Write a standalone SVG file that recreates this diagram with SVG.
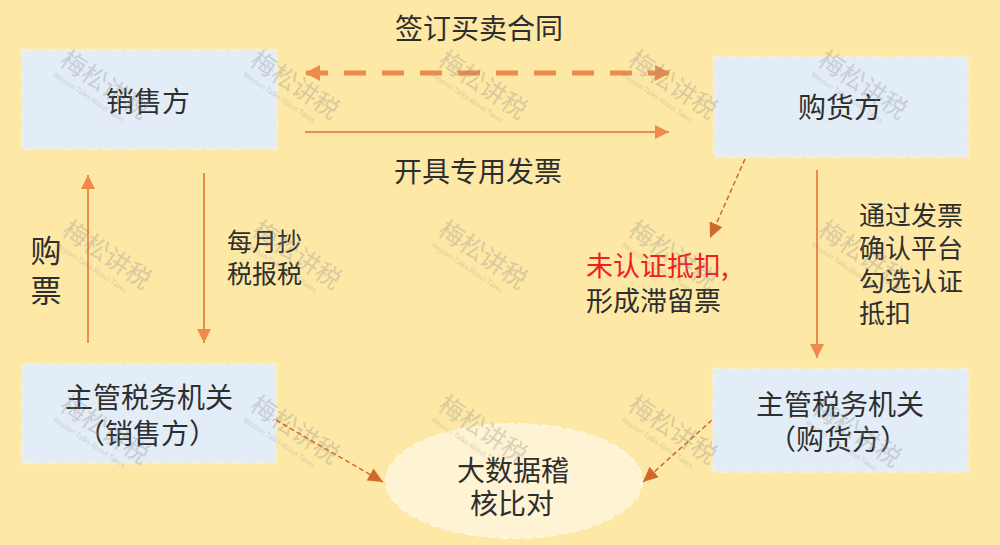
<svg xmlns="http://www.w3.org/2000/svg" width="1000" height="545" viewBox="0 0 1000 545">
<style>
.t{font-family:"Noto Sans CJK SC","Noto Sans",sans-serif;fill:#2e2e2e;dominant-baseline:central}
.c{text-anchor:middle}
.box{fill:#E3EDF7;stroke:#F4EFD9;stroke-width:2.5;stroke-dasharray:9 4}
.main{stroke:#EE8A4C;fill:none}
.thin{stroke:#D2692C;fill:none;stroke-width:1.5;stroke-dasharray:5 3}
.wm{font-family:"Noto Sans CJK SC",sans-serif;fill:#8f8f8f;opacity:0.32}
</style>
<defs>
<marker id="ah" markerUnits="userSpaceOnUse" markerWidth="16" markerHeight="16" refX="14" refY="8" orient="auto-start-reverse"><path d="M0,0 L15,8 L0,16 Z" fill="#EE8A4C"/></marker>
<marker id="ah2" markerUnits="userSpaceOnUse" markerWidth="14" markerHeight="14" refX="14" refY="7" orient="auto"><path d="M0,0 L14,7 L0,14 Z" fill="#EE8A4C"/></marker>
<marker id="ah3" markerUnits="userSpaceOnUse" markerWidth="16" markerHeight="14" refX="15" refY="7" orient="auto"><path d="M0,0 L15,7 L0,14 Z" fill="#D2692C"/></marker>
<g id="wmk"><text class="wm" font-size="25" x="0" y="0" text-anchor="middle" transform="rotate(34)">梅松讲税</text><text class="wm" font-size="7" font-family="Liberation Serif,serif" x="-6" y="13" text-anchor="middle" transform="rotate(34)">Meysun Talks About Taxes</text></g>
</defs>
<rect width="1000" height="545" fill="#FEE8A6"/>
<g id="connectors">
<line class="main" x1="306" y1="73" x2="669" y2="73" stroke-width="5" stroke-dasharray="22 16" marker-start="url(#ah)" marker-end="url(#ah)"/>
<line class="main" x1="305" y1="132" x2="669" y2="132" stroke-width="2" marker-end="url(#ah2)"/>
<line class="main" x1="88" y1="343" x2="88" y2="175" stroke-width="2" marker-end="url(#ah2)"/>
<line class="main" x1="204" y1="173" x2="204" y2="343" stroke-width="2" marker-end="url(#ah2)"/>
<line class="main" x1="817" y1="170" x2="817" y2="358" stroke-width="2" marker-end="url(#ah2)"/>
<line class="thin" x1="745" y1="159" x2="710" y2="238" marker-end="url(#ah3)"/>
<line class="thin" x1="276" y1="420" x2="383" y2="482" marker-end="url(#ah3)"/>
<line class="thin" x1="712" y1="420" x2="643" y2="482" marker-end="url(#ah3)"/>
<text class="t c" x="479" y="27" font-size="28">签订买卖合同</text>
<text class="t c" x="478" y="170" font-size="28">开具专用发票</text>
<text class="t c" x="46" y="248" font-size="31">购</text>
<text class="t c" x="46" y="288" font-size="31">票</text>
<text class="t" x="227" y="240" font-size="25">每月抄</text>
<text class="t" x="227" y="272" font-size="25">税报税</text>
<text class="t" x="859" y="213" font-size="26">通过发票</text>
<text class="t" x="859" y="246" font-size="26">确认平台</text>
<text class="t" x="859" y="279" font-size="26">勾选认证</text>
<text class="t" x="859" y="311" font-size="26">抵扣</text>
<text class="t" x="586" y="264" font-size="27" style="fill:#F0201E">未认证抵扣,</text>
<text class="t" x="586" y="299" font-size="27">形成滞留票</text>
</g>
<g id="seller"><rect class="box" x="22" y="50" width="255" height="99"/><text class="t c" x="148" y="100" font-size="28">销售方</text></g>
<g id="buyer"><rect class="box" x="714" y="57" width="254" height="100"/><text class="t c" x="840" y="106" font-size="28">购货方</text></g>
<g id="tax-seller"><rect class="box" x="22" y="364" width="254" height="99"/><text class="t c" x="149" y="396" font-size="28">主管税务机关</text><text class="t c" x="147" y="432" font-size="28">（销售方）</text></g>
<g id="tax-buyer"><rect class="box" x="713" y="369" width="255" height="103"/><text class="t c" x="840" y="403" font-size="28">主管税务机关</text><text class="t c" x="838" y="438" font-size="28">（购货方）</text></g>
<g id="bigdata"><ellipse cx="514" cy="481" rx="128" ry="57" fill="#FEF3D2" stroke="#FFF6E0" stroke-width="2" stroke-dasharray="8 4"/><text class="t c" x="513" y="469" font-size="28">大数据稽</text><text class="t c" x="512" y="502" font-size="28">核比对</text></g>
<g id="watermarks">
<use href="#wmk" x="100" y="92"/><use href="#wmk" x="290" y="92"/><use href="#wmk" x="478" y="92"/><use href="#wmk" x="668" y="92"/><use href="#wmk" x="858" y="92"/>
<use href="#wmk" x="102" y="262"/><use href="#wmk" x="292" y="262"/><use href="#wmk" x="478" y="262"/><use href="#wmk" x="668" y="262"/><use href="#wmk" x="858" y="262"/>
<use href="#wmk" x="100" y="437"/><use href="#wmk" x="290" y="437"/><use href="#wmk" x="478" y="437"/><use href="#wmk" x="668" y="437"/><use href="#wmk" x="852" y="440"/>
</g>
</svg>
